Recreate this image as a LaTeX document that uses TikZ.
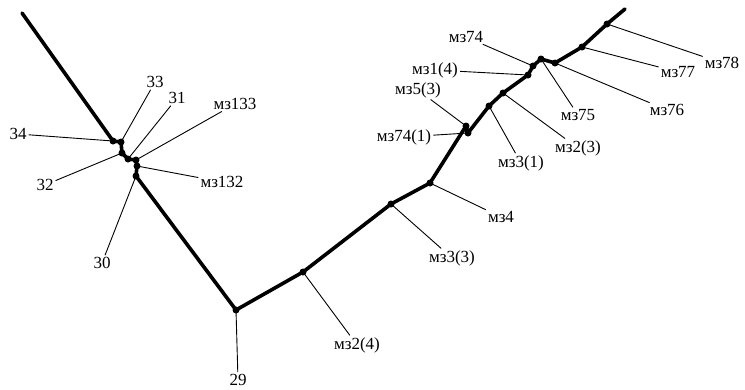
\documentclass[tikz,border=0pt]{standalone}
\usepackage{fontspec}
\setmainfont{Liberation Serif}

\tikzset{
    pipe/.style={line width=3.6pt, line join=round, line cap=round},
    lead/.style={line width=0.9pt, shorten <=1pt},
    lbl/.style={inner sep=1pt, font=\fontsize{17}{17}\selectfont},
    dot/.style={circle, fill, inner sep=0pt, minimum size=7pt}
}

\begin{document}
\begin{tikzpicture}[x=1pt,y=-1pt]
            \useasboundingbox (0,0) rectangle (745,389);

            % points on the line
            \coordinate (s0) at (22,13);
            \coordinate (p34) at (113,141);
            \coordinate (p33) at (121,142);
            \coordinate (p32) at (122,153);
            \coordinate (p31) at (128,159);
            \coordinate (p133) at (136,160);
            \coordinate (p132) at (137,166);
            \coordinate (p30) at (136,176);
            \coordinate (p29) at (236,310);
            \coordinate (q24) at (303,272);
            \coordinate (q33) at (391,204);
            \coordinate (q4) at (430,183);
            \coordinate (q53) at (466,126);
            \coordinate (q741) at (468,133);
            \coordinate (q31) at (489,106);
            \coordinate (q23) at (503,93);
            \coordinate (q14) at (528,75);
            \coordinate (q74) at (533,66);
            \coordinate (q75) at (541,59);
            \coordinate (q76) at (555,63);
            \coordinate (q77) at (582,47);
            \coordinate (q78) at (607,24);
            \coordinate (s1) at (625,9);

            \draw[pipe] (s0) -- (p34) -- (p33) -- (p32) -- (p31) -- (p133) -- (p132) -- (p30)
                -- (p29) -- (q24) -- (q33) -- (q4) -- (q53) -- (q741) -- (q31) -- (q23)
                -- (q14) -- (q74) -- (q75) -- (q76) -- (q77) -- (q78) -- (s1);

            \foreach \p in {p34,p33,p32,p31,p133,p132,p30,p29,q24,q33,q4,q53,q741,q31,q23,q14,q74,q75,q76,q77,q78}
                \node[dot] at (\p) {};

            % labels
            \node[lbl] (n34) at (18,134) {34};
            \node[lbl] (n33) at (155,82) {33};
            \node[lbl] (n31) at (177,98) {31};
            \node[lbl] (n133) at (235,104) {мз133};
            \node[lbl] (n32) at (45,185) {32};
            \node[lbl] (n132) at (222,182) {мз132};
            \node[lbl] (n30) at (102,263) {30};
            \node[lbl] (n29) at (238,380) {29};
            \node[lbl] (m24) at (357,345) {мз2(4)};
            \node[lbl] (m33) at (452,258) {мз3(3)};
            \node[lbl] (m4) at (501,217) {мз4};
            \node[lbl] (m741) at (404,137) {мз74(1)};
            \node[lbl] (m53) at (418,90) {мз5(3)};
            \node[lbl] (m14) at (435,70) {мз1(4)};
            \node[lbl] (m74) at (466,37) {мз74};
            \node[lbl] (m31) at (521,163) {мз3(1)};
            \node[lbl] (m23) at (578,148) {мз2(3)};
            \node[lbl] (m75) at (578,115) {мз75};
            \node[lbl] (m76) at (667,110) {мз76};
            \node[lbl] (m77) at (678,72) {мз77};
            \node[lbl] (m78) at (722,63) {мз78};

            % leaders
            \draw[lead] (n34) -- (p34);
            \draw[lead] (n33) -- (p33);
            \draw[lead] (n31) -- (p31);
            \draw[lead] (n133) -- (p133);
            \draw[lead] (n32) -- (p32);
            \draw[lead] (n132) -- (p132);
            \draw[lead] (n30) -- (p30);
            \draw[lead] (n29) -- (p29);
            \draw[lead] (m24) -- (q24);
            \draw[lead] (m33) -- (q33);
            \draw[lead] (m4) -- (q4);
            \draw[lead] (m741) -- (q741);
            \draw[lead] (m53) -- (q53);
            \draw[lead] (m14) -- (q14);
            \draw[lead] (m74) -- (q74);
            \draw[lead] (m31) -- (q31);
            \draw[lead] (m23) -- (q23);
            \draw[lead] (m75) -- (q75);
            \draw[lead] (m76) -- (q76);
            \draw[lead] (m77) -- (q77);
            \draw[lead] (m78) -- (q78);
    \end{tikzpicture}
\end{document}
